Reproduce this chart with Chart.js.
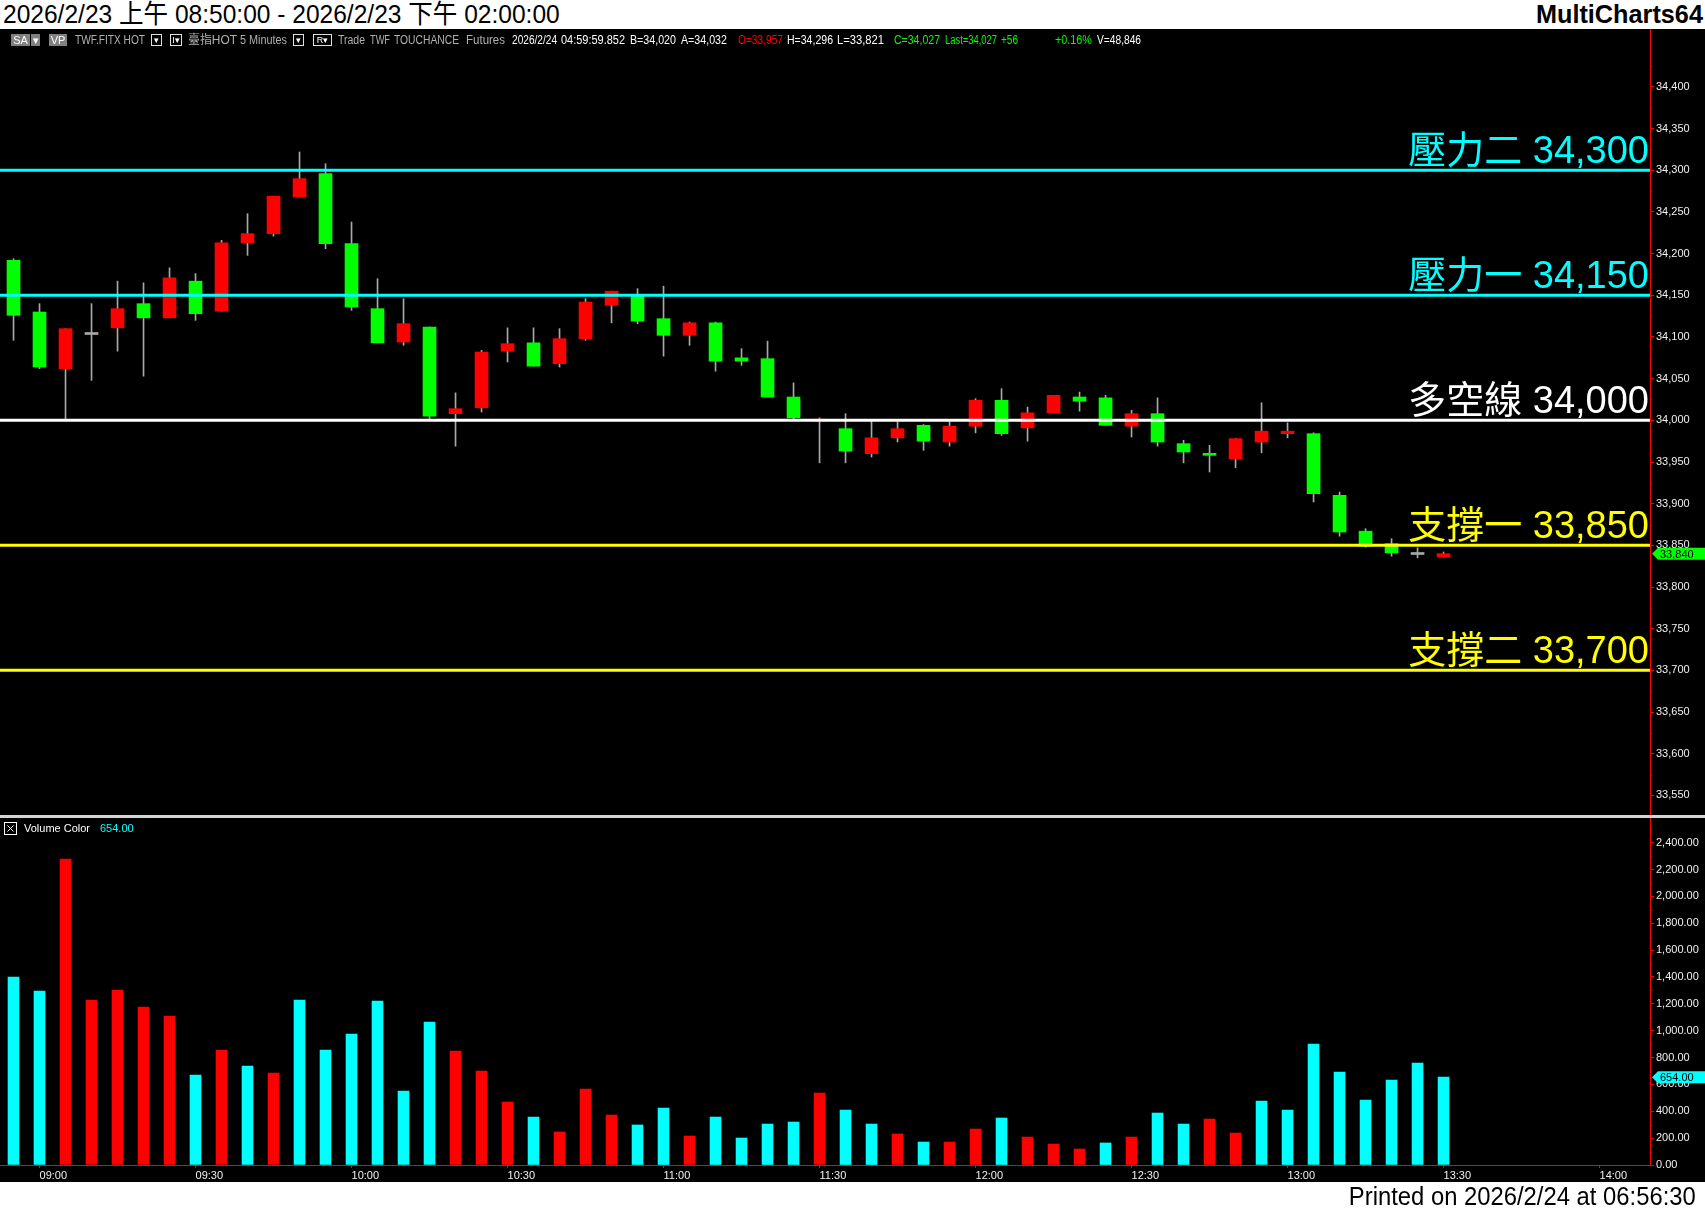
<!DOCTYPE html>
<html>
<head>
<meta charset="utf-8">
<script src="https://cdn.jsdelivr.net/npm/chart.js@4.4.1/dist/chart.umd.min.js"></script>
<style>
html, body { margin: 0; padding: 0; background: #fff; }
#page { position: relative; width: 1705px; height: 1211px; overflow: hidden; background: #fff;
        font-family: "Liberation Sans", "Noto Sans CJK TC", sans-serif; }
#title { position: absolute; left: 3px; top: 0; line-height: 29px; font-size: 26px; color: #000; white-space: nowrap; }
#brand { position: absolute; right: 2px; top: 0; line-height: 29px; font-size: 26px; font-weight: bold; color: #000; white-space: nowrap; }
#board { position: absolute; left: 0; top: 29px; width: 1705px; height: 1153px; background: #000; }
#footer { position: absolute; right: 9px; top: 1182px; line-height: 29px; font-size: 26px; color: #000; white-space: nowrap; }
#priceCanvas { position: absolute; left: 0; top: 0; }
#volCanvas { position: absolute; left: 0; top: 786px; }
#sep { position: absolute; left: 0; top: 786px; width: 1705px; height: 3px; background: #d4d4d4; z-index: 2; }
#info { position: absolute; left: 0; top: 4px; height: 14px; width: 1200px; font-size: 12px; line-height: 14px; z-index: 3; }
#info span { position: absolute; top: 0; white-space: nowrap; }
#info .box { top: 1px; height: 12px; line-height: 12px; text-align: center; font-size: 11px; color: #fff; }
#info .gray { background: #808080; }
#info .frame { border: 1px solid #e0e0e0; height: 10px; line-height: 10px; font-size: 9px; }
</style>
</head>
<body>
<div id="page">
  <div id="title" data-w="557">2026/2/23 上午 08:50:00 - 2026/2/23 下午 02:00:00</div>
  <div id="brand" data-w="167" data-o="right">MultiCharts64</div>
  <div id="board">
    <canvas id="priceCanvas" width="1705" height="786"></canvas>
    <div id="sep"></div>
    <canvas id="volCanvas" width="1705" height="367"></canvas>
    <div id="info">
      <span class="box gray" style="left:11px;width:19px">SA</span>
      <span class="box gray" style="left:31px;width:9px">▾</span>
      <span class="box gray" style="left:49px;width:18px">VP</span>
      <span data-w="70" style="left:75px;color:#b0b0b0">TWF.FITX HOT</span>
      <span class="box frame" style="left:151px;width:9px">▾</span>
      <span class="box frame" style="left:170px;width:10px">I▾</span>
      <span data-w="49" style="left:188px;color:#b0b0b0">臺指HOT</span>
      <span data-w="47" style="left:240px;color:#b0b0b0">5 Minutes</span>
      <span class="box frame" style="left:293px;width:9px">▾</span>
      <span class="box frame" style="left:313px;width:17px">R▾</span>
      <span data-w="27" style="left:338px;color:#b0b0b0">Trade</span>
      <span data-w="20" style="left:370px;color:#b0b0b0">TWF</span>
      <span data-w="65" style="left:394px;color:#b0b0b0">TOUCHANCE</span>
      <span data-w="39" style="left:466px;color:#b0b0b0">Futures</span>
      <span data-w="45" style="left:512px;color:#fff">2026/2/24</span>
      <span data-w="64" style="left:561px;color:#fff">04:59:59.852</span>
      <span data-w="46" style="left:630px;color:#fff">B=34,020</span>
      <span data-w="46" style="left:681px;color:#fff">A=34,032</span>
      <span data-w="45" style="left:738px;color:#ff0000">O=33,957</span>
      <span data-w="46" style="left:787px;color:#fff">H=34,296</span>
      <span data-w="47" style="left:837px;color:#fff">L=33,821</span>
      <span data-w="46" style="left:894px;color:#00ff00">C=34,027</span>
      <span data-w="52" style="left:945px;color:#00ff00">Last=34,027</span>
      <span data-w="17" style="left:1001px;color:#00ff00">+56</span>
      <span data-w="37" style="left:1055px;color:#00ff00">+0.16%</span>
      <span data-w="44" style="left:1097px;color:#fff">V=48,846</span>
    </div>
  </div>
  <div id="footer" data-w="347" data-o="right">Printed on 2026/2/24 at 06:56:30</div>
</div>
<script>
// 5 minute bars, time = bar close
const barTimes = ['08:55','09:00','09:05','09:10','09:15','09:20','09:25','09:30','09:35','09:40','09:45','09:50','09:55',
  '10:00','10:05','10:10','10:15','10:20','10:25','10:30','10:35','10:40','10:45','10:50','10:55',
  '11:00','11:05','11:10','11:15','11:20','11:25','11:30','11:35','11:40','11:45','11:50','11:55',
  '12:00','12:05','12:10','12:15','12:20','12:25','12:30','12:35','12:40','12:45','12:50','12:55',
  '13:00','13:05','13:10','13:15','13:20','13:25','13:30'];

const opens  = [34192,34130,34062,34103,34111,34140,34123,34167,34131,34213,34224,34268,34296,34212,34134,34094,
  34112,34008,34015,34083,34093,34068,34098,34138,34151,34122,34102,34117,34075,34074,34028,33999,
  33990,33960,33979,33994,33974,33993,34024,33991,34009,34028,34027,33993,34008,33972,33960,33954,
  33974,33984,33984,33910,33867,33852,33839,33836];
const highs  = [34194,34140,34110,34140,34167,34165,34183,34176,34216,34248,34269,34322,34308,34238,34170,34146,
  34112,34033,34084,34111,34111,34110,34146,34155,34158,34161,34118,34118,34086,34095,34045,34003,
  34008,34000,33998,33995,33998,34026,34038,34016,34030,34034,34030,34012,34027,33976,33970,33978,
  34021,33997,33985,33914,33870,33858,33847,33842];
const lows   = [34096,34062,34001,34048,34083,34053,34123,34120,34131,34198,34221,34268,34206,34132,34093,34090,
  34002,33969,34010,34070,34065,34064,34096,34117,34116,34077,34090,34059,34066,34028,34002,33949,
  33949,33956,33974,33964,33969,33985,33982,33975,34009,34011,33994,33980,33969,33949,33938,33943,
  33961,33979,33902,33861,33848,33837,33835,33836];
const closes = [34126,34064,34110,34103,34134,34123,34171,34128,34213,34224,34269,34290,34212,34136,34093,34116,
  34005,34014,34082,34092,34065,34098,34142,34155,34119,34102,34117,34071,34071,34028,34003,34001,
  33963,33979,33990,33975,33993,34024,33984,34009,34030,34023,33994,34008,33974,33962,33958,33978,
  33987,33987,33912,33866,33849,33841,33839,33840];

const volumes = [1399,1295,2278,1228,1303,1176,1109,670,856,737,685,1228,856,975,1221,551,
  1064,849,700,469,357,246,566,372,298,424,216,357,201,305,320,536,
  409,305,231,171,171,268,350,208,156,119,164,208,387,305,342,238,
  476,409,901,692,484,633,759,654];
// 1 = up volume (red), 0 = down volume (cyan)
const volUp = [0,0,1,1,1,1,1,0,1,0,1,0,0,0,0,0,
  0,1,1,1,0,1,1,1,0,0,1,0,0,0,0,1,
  0,0,1,0,1,1,0,1,1,1,0,1,0,0,1,1,
  0,0,0,0,0,0,0,0];

const levelValues = [34300, 34150, 34000, 33850, 33700];
const levelNames  = ['壓力二', '壓力一', '多空線', '支撐一', '支撐二'];

const priceTicks = [33550,33600,33650,33700,33750,33800,33850,33900,33950,34000,34050,34100,34150,34200,34250,34300,34350,34400];
const volTicks = [0,200,400,600,800,1000,1200,1400,1600,1800,2000,2200,2400];
const timeTicks = ['09:00','09:30','10:00','10:30','11:00','11:30','12:00','12:30','13:00','13:30','14:00'];

const levelColors = ['#00ffff', '#00ffff', '#ffffff', '#ffff00', '#ffff00'];
const RED = '#ff0000', GREEN = '#00ff00', CYAN = '#00ffff', WICK = '#a8a8a8';
const X_MIN = 532.4, X_MAX = 849.7;

// squeeze header texts to the condensed widths of the original
document.querySelectorAll('[data-w]').forEach(el => {
    const w = el.getBoundingClientRect().width;
    el.style.transformOrigin = (el.dataset.o === 'right' ? 'right' : 'left') + ' center';
    el.style.transform = 'scaleX(' + (+el.dataset.w / w).toFixed(3) + ')';
});

function toMin(s) { const p = s.split(':'); return +p[0] * 60 + +p[1]; }
function fmtMin(m) { const h = Math.floor(m / 60), mm = m % 60; return String(h).padStart(2, '0') + ':' + String(mm).padStart(2, '0'); }

const xs = barTimes.map(toMin);

const wickData = xs.map((x, i) => ({ x: x, y: [lows[i], highs[i]] }));
const bodyData = xs.map((x, i) => ({ x: x, y: [opens[i], closes[i]] }));
const bodyColors = opens.map((o, i) => closes[i] > o ? RED : (closes[i] < o ? GREEN : WICK));

const levelSets = levelValues.map((v, i) => ({
    type: 'line',
    data: [{ x: X_MIN, y: v }, { x: X_MAX, y: v }],
    borderColor: levelColors[i],
    borderWidth: 3,
    pointRadius: 0,
    order: 0
}));

const tickFont = { family: 'Liberation Sans', size: 11 };

const priceExtras = {
    id: 'priceExtras',
    afterDatasetsDraw(chart) {
        const { ctx, chartArea, scales: { y } } = chart;
        ctx.save();
        ctx.font = '38px "Liberation Sans", "Noto Sans CJK TC"';
        ctx.textAlign = 'right';
        ctx.textBaseline = 'alphabetic';
        levelValues.forEach((v, i) => {
            ctx.fillStyle = levelColors[i];
            ctx.fillText(levelNames[i] + ' ' + v.toLocaleString('en-US'), chartArea.right - 1, y.getPixelForValue(v) - 7);
        });
        ctx.restore();
    },
    afterDraw(chart) {
        const { ctx, chartArea, scales: { y } } = chart;
        ctx.save();
        // minor ticks
        ctx.strokeStyle = RED;
        ctx.lineWidth = 1;
        for (let v = priceTicks[0] - 25; v <= priceTicks[priceTicks.length - 1] + 25; v += 50) {
            const py = Math.round(y.getPixelForValue(v)) + 0.5;
            if (py < chartArea.top || py > chartArea.bottom) continue;
            ctx.beginPath();
            ctx.moveTo(chartArea.right, py);
            ctx.lineTo(chartArea.right + 2, py);
            ctx.stroke();
        }
        // last price tag
        const last = closes[closes.length - 1];
        const py = y.getPixelForValue(last);
        const x0 = chartArea.right + 2;
        ctx.fillStyle = GREEN;
        ctx.beginPath();
        ctx.moveTo(x0, py);
        ctx.lineTo(x0 + 6, py - 6);
        ctx.lineTo(chart.width, py - 6);
        ctx.lineTo(chart.width, py + 6);
        ctx.lineTo(x0 + 6, py + 6);
        ctx.closePath();
        ctx.fill();
        ctx.fillStyle = '#000';
        ctx.font = '11px "Liberation Sans"';
        ctx.textBaseline = 'middle';
        ctx.fillText(last.toLocaleString('en-US'), x0 + 8, py + 1);
        ctx.restore();
    }
};

new Chart(document.getElementById('priceCanvas'), {
    type: 'bar',
    data: {
        datasets: [
            { data: wickData, backgroundColor: WICK, barThickness: 1, grouped: false, order: 2 },
            { data: bodyData, backgroundColor: bodyColors, barThickness: 13, grouped: false, minBarLength: 2, order: 1 }
        ].concat(levelSets)
    },
    options: {
        responsive: false,
        animation: false,
        events: [],
        layout: { padding: 0 },
        plugins: { legend: { display: false }, tooltip: { enabled: false } },
        scales: {
            x: { type: 'linear', display: false, min: X_MIN, max: X_MAX, offset: false },
            y: {
                position: 'right',
                min: 33526.4,
                max: 34469.6,
                afterBuildTicks: s => { s.ticks = priceTicks.map(v => ({ value: v })); },
                afterFit: s => { s.width = 55; s.paddingTop = 0; s.paddingBottom = 0; },
                grid: { drawOnChartArea: false, drawTicks: true, tickLength: 4, color: RED },
                border: { display: true, color: RED, width: 1 },
                ticks: { color: '#f0f0f0', font: tickFont, padding: 2, callback: v => v.toLocaleString('en-US') }
            }
        }
    },
    plugins: [priceExtras]
});

const volExtras = {
    id: 'volExtras',
    afterDraw(chart) {
        const { ctx, chartArea, scales: { y } } = chart;
        const last = volumes[volumes.length - 1];
        ctx.save();
        ctx.strokeStyle = RED;
        ctx.lineWidth = 1;
        for (let v = 100; v <= volTicks[volTicks.length - 1] + 100; v += 200) {
            const py = Math.round(y.getPixelForValue(v)) + 0.5;
            if (py < chartArea.top) continue;
            ctx.beginPath();
            ctx.moveTo(chartArea.right, py);
            ctx.lineTo(chartArea.right + 2, py);
            ctx.stroke();
        }
        // legend
        ctx.strokeStyle = '#ffffff';
        ctx.strokeRect(4.5, chartArea.top + 4.5, 12, 12);
        ctx.beginPath();
        ctx.moveTo(7.5, chartArea.top + 7.5); ctx.lineTo(13.5, chartArea.top + 13.5);
        ctx.moveTo(13.5, chartArea.top + 7.5); ctx.lineTo(7.5, chartArea.top + 13.5);
        ctx.stroke();
        ctx.font = '11px "Liberation Sans"';
        ctx.textBaseline = 'middle';
        ctx.fillStyle = '#ffffff';
        ctx.fillText('Volume Color', 24, chartArea.top + 11);
        ctx.fillStyle = CYAN;
        ctx.fillText(last.toFixed(2), 100, chartArea.top + 11);
        // last volume tag
        const py = y.getPixelForValue(last);
        const x0 = chartArea.right + 2;
        ctx.fillStyle = CYAN;
        ctx.beginPath();
        ctx.moveTo(x0, py);
        ctx.lineTo(x0 + 6, py - 6);
        ctx.lineTo(chart.width, py - 6);
        ctx.lineTo(chart.width, py + 6);
        ctx.lineTo(x0 + 6, py + 6);
        ctx.closePath();
        ctx.fill();
        ctx.fillStyle = '#000';
        ctx.fillText(last.toFixed(2), x0 + 8, py + 1);
        ctx.restore();
    }
};

new Chart(document.getElementById('volCanvas'), {
    type: 'bar',
    data: {
        datasets: [{
            data: xs.map((x, i) => ({ x: x, y: volumes[i] })),
            backgroundColor: volUp.map(u => u ? RED : CYAN),
            barThickness: 11,
            grouped: false
        }]
    },
    options: {
        responsive: false,
        animation: false,
        events: [],
        layout: { padding: { top: 3 } },
        plugins: { legend: { display: false }, tooltip: { enabled: false } },
        scales: {
            x: {
                type: 'linear',
                min: X_MIN,
                max: X_MAX,
                offset: false,
                afterBuildTicks: s => { s.ticks = timeTicks.map(t => ({ value: toMin(t) })); },
                afterFit: s => { s.height = 17; s.paddingLeft = 0; s.paddingRight = 0; },
                grid: { drawOnChartArea: false, drawTicks: true, tickLength: 3, color: RED, offset: false },
                border: { display: true, color: RED, width: 1 },
                ticks: { color: '#f0f0f0', font: tickFont, padding: 1, align: 'start', maxRotation: 0, autoSkip: false,
                         callback: v => fmtMin(v) }
            },
            y: {
                position: 'right',
                min: 0,
                max: 2584,
                afterBuildTicks: s => { s.ticks = volTicks.map(v => ({ value: v })); },
                afterFit: s => { s.width = 55; s.paddingTop = 0; s.paddingBottom = 0; },
                grid: { drawOnChartArea: false, drawTicks: true, tickLength: 4, color: RED },
                border: { display: true, color: RED, width: 1 },
                ticks: { color: '#f0f0f0', font: tickFont, padding: 2,
                         callback: v => v.toLocaleString('en-US', { minimumFractionDigits: 2, maximumFractionDigits: 2 }) }
            }
        }
    },
    plugins: [volExtras]
});
</script>
</body>
</html>
